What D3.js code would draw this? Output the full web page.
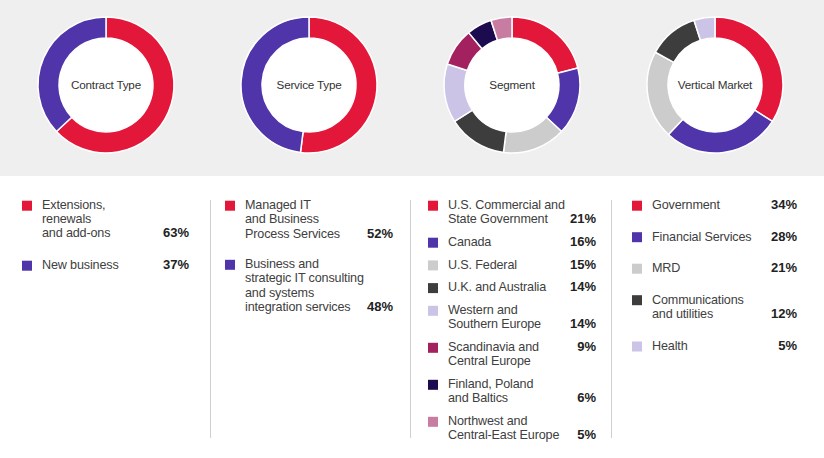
<!DOCTYPE html>
<html>
<head>
<meta charset="utf-8">
<script src="https://cdn.jsdelivr.net/npm/d3@7"></script>
<style>
  html, body { margin: 0; padding: 0; background: #fff; }
  svg { display: block; }
  text { font-family: "Liberation Sans", Arial, Helvetica, sans-serif; }
</style>
</head>
<body>
<svg id="chart" width="824" height="458"></svg>
<script>
// ---- Data ----
const chartTitles = ["Contract Type", "Service Type", "Segment", "Vertical Market"];

const contractLabels = ["Extensions,\nrenewals\nand add-ons", "New business"];
const contractValues = [63, 37];

const serviceLabels = ["Managed IT\nand Business\nProcess Services", "Business and\nstrategic IT consulting\nand systems\nintegration services"];
const serviceValues = [52, 48];

const segmentLabels = ["U.S. Commercial and\nState Government", "Canada", "U.S. Federal", "U.K. and Australia",
  "Western and\nSouthern Europe", "Scandinavia and\nCentral Europe", "Finland, Poland\nand Baltics", "Northwest and\nCentral-East Europe"];
const segmentValues = [21, 16, 15, 14, 14, 9, 6, 5];

const verticalLabels = ["Government", "Financial Services", "MRD", "Communications\nand utilities", "Health"];
const verticalValues = [34, 28, 21, 12, 5];

// ---- Styles ----
const RED = "#e3173a", PURPLE = "#5034a9", LGREY = "#cccccc", DGREY = "#3d3d3d",
      LAV = "#cbc4e6", MAG = "#a3215f", NAVY = "#1d0b50", PINK = "#c97ca1";
const palettes = [
  [RED, PURPLE],
  [RED, PURPLE],
  [RED, PURPLE, LGREY, DGREY, LAV, MAG, NAVY, PINK],
  [RED, PURPLE, LGREY, DGREY, LAV]
];

const charts = [
  {labels: contractLabels, values: contractValues},
  {labels: serviceLabels, values: serviceValues},
  {labels: segmentLabels, values: segmentValues},
  {labels: verticalLabels, values: verticalValues}
];

const svg = d3.select("#chart");
const W = 824, H = 458;

// grey band
svg.append("rect").attr("x", 0).attr("y", 0).attr("width", W).attr("height", 176).attr("fill", "#efefef");

// donut layout
const centerX = d3.scalePoint().domain(d3.range(4)).range([106, 715]);
const cy = 85, outerR = 68, innerR = 47;
const pie = d3.pie().sort(null).value(d => d);
const arc = d3.arc().innerRadius(innerR).outerRadius(outerR);

charts.forEach((c, i) => {
  const g = svg.append("g").attr("transform", `translate(${centerX(i)},${cy})`);
  g.append("circle").attr("r", innerR).attr("fill", "#fff");
  g.selectAll("path").data(pie(c.values)).join("path")
    .attr("d", arc)
    .attr("fill", (d, j) => palettes[i][j])
    .attr("stroke", "#fff")
    .attr("stroke-width", 1.5)
    .attr("stroke-linejoin", "round");
  g.append("text").text(chartTitles[i])
    .attr("text-anchor", "middle")
    .attr("dy", "0.35em")
    .attr("font-size", 11.7)
    .attr("letter-spacing", -0.2)
    .attr("fill", "#333");
});

// legends
const squareX = [22, 225, 428, 632];
const textX = [42, 245, 448, 652];
const pctX = [189, 393, 596, 797];
const itemGap = [32, 30.5, 22.7, 31.5];
const lineH = [14, 14.3, 14.3, 14.8];
const firstBaseline = 209;
const pctOnFirstLine = new Set(["Scandinavia and\nCentral Europe"]);

charts.forEach((c, i) => {
  const g = svg.append("g");
  let y = firstBaseline;
  c.labels.forEach((lab, j) => {
    const lines = lab.split("\n");
    g.append("rect")
      .attr("x", squareX[i]).attr("y", y - 8.3)
      .attr("width", 10).attr("height", 10)
      .attr("fill", palettes[i][j]);
    const t = g.append("text")
      .attr("x", textX[i]).attr("y", y)
      .attr("font-size", 12.6)
      .attr("letter-spacing", -0.15)
      .attr("fill", "#404040");
    lines.forEach((ln, k) => {
      t.append("tspan").attr("x", textX[i]).attr("y", y + k * lineH[i]).text(ln);
    });
    const lastY = y + (lines.length - 1) * lineH[i];
    const pY = pctOnFirstLine.has(lab) ? y : lastY;
    g.append("text")
      .attr("x", pctX[i]).attr("y", pY)
      .attr("text-anchor", "end")
      .attr("font-size", 13)
      .attr("font-weight", "bold")
      .attr("fill", "#222")
      .text(c.values[j] + "%");
    y = lastY + itemGap[i];
  });
});

// dividers
[210.5, 410.5, 611.5].forEach(x => {
  svg.append("line").attr("x1", x).attr("x2", x).attr("y1", 200).attr("y2", 438)
    .attr("stroke", "#cfcfcf").attr("stroke-width", 1);
});
</script>
</body>
</html>
